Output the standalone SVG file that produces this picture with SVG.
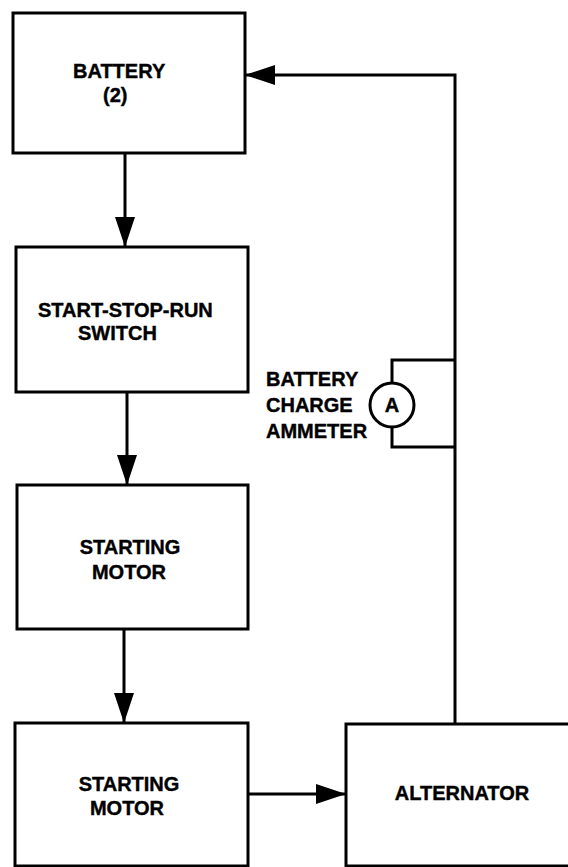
<svg xmlns="http://www.w3.org/2000/svg" width="568" height="867" viewBox="0 0 568 867">
<style>
.box{fill:#fff;stroke:#000;stroke-width:3}
.ln{fill:none;stroke:#000;stroke-width:3}
.t{font-family:"Liberation Sans",Arial,sans-serif;font-weight:bold;font-size:20px;fill:#000;stroke:#000;stroke-width:0.4}
.c{text-anchor:middle}
</style>
<defs>
<marker id="ah" viewBox="0 0 30 20" refX="30" refY="10" markerWidth="30" markerHeight="20" markerUnits="userSpaceOnUse" orient="auto">
<path d="M0,0 L30,10 L0,20 Z" fill="#000"/>
</marker>
</defs>
<rect width="568" height="867" fill="#fff"/>
<g id="connectors">
<line class="ln" x1="125" y1="153" x2="125" y2="247" marker-end="url(#ah)"/>
<line class="ln" x1="127" y1="392" x2="127" y2="485" marker-end="url(#ah)"/>
<line class="ln" x1="124" y1="629" x2="124" y2="723" marker-end="url(#ah)"/>
<line class="ln" x1="248" y1="794" x2="346" y2="794" marker-end="url(#ah)"/>
<path class="ln" d="M455,724 L455,75 L245,75" marker-end="url(#ah)"/>
<path class="ln" d="M455,360 L392,360 L392,383 M392,427 L392,447 L455,447"/>
</g>
<g id="battery">
<rect class="box" x="13" y="13" width="232" height="140"/>
<text class="t" x="73" y="78">BATTERY</text>
<text class="t" x="103" y="102">(2)</text>
</g>
<g id="switch">
<rect class="box" x="16" y="247" width="232" height="145"/>
<text class="t" x="38" y="317">START-STOP-RUN</text>
<text class="t" x="78" y="340">SWITCH</text>
</g>
<g id="motor1">
<rect class="box" x="17" y="485" width="231" height="144"/>
<text class="t c" x="130" y="554">STARTING</text>
<text class="t c" x="129" y="579">MOTOR</text>
</g>
<g id="motor2">
<rect class="box" x="15" y="723" width="233" height="143"/>
<text class="t c" x="129" y="791">STARTING</text>
<text class="t c" x="127" y="815">MOTOR</text>
</g>
<g id="alternator">
<rect class="box" x="346" y="724" width="230" height="142"/>
<text class="t c" x="462" y="800">ALTERNATOR</text>
</g>
<g id="ammeter">
<circle cx="392" cy="405" r="22" fill="#fff" stroke="#000" stroke-width="3"/>
<text class="t c" x="392" y="412">A</text>
<text class="t" x="266" y="386">BATTERY</text>
<text class="t" x="266" y="412">CHARGE</text>
<text class="t" x="266" y="438">AMMETER</text>
</g>
</svg>
